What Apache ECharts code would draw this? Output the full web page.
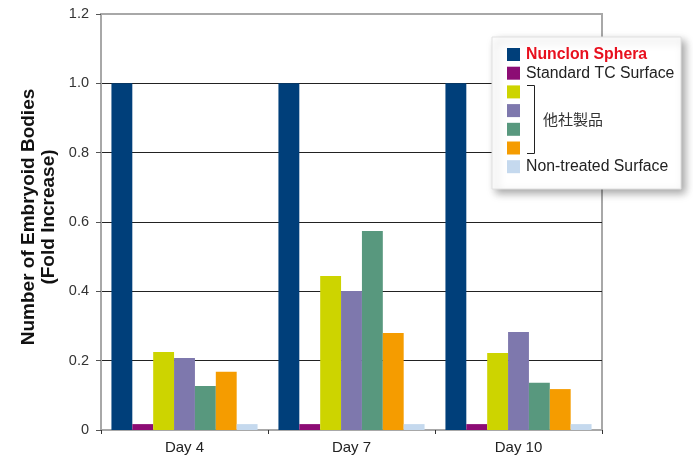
<!DOCTYPE html>
<html>
<head>
<meta charset="utf-8">
<script src="https://cdn.jsdelivr.net/npm/echarts@6/dist/echarts.min.js"></script>
<style>html,body{margin:0;padding:0;background:#fff}#c{width:693px;height:459px}</style>
</head>
<body>
<div id="c"></div>
<script>
const categories = ['Day 4', 'Day 7', 'Day 10'];
const seriesNames = ['Nunclon Sphera', 'Standard TC Surface', '他社製品A', '他社製品B', '他社製品C', '他社製品D', 'Non-treated Surface'];
const nunclon = [1.0, 1.0, 1.0];
const standardTC = [0.017, 0.017, 0.017];
const otherA = [0.225, 0.444, 0.222];
const otherB = [0.208, 0.401, 0.283];
const otherC = [0.127, 0.574, 0.136];
const otherD = [0.168, 0.280, 0.118];
const nonTreated = [0.017, 0.017, 0.017];
const yTicks = [0, 0.2, 0.4, 0.6, 0.8, 1.0, 1.2];
const colors = ['#003f7a', '#8c0c74', '#cdd400', '#7e78ad', '#58987e', '#f59c00', '#c5d9ee'];

const allData = [nunclon, standardTC, otherA, otherB, otherC, otherD, nonTreated];
const font = '"Liberation Sans", Arial, Helvetica, sans-serif';

const chart = echarts.init(document.getElementById('c'));
chart.setOption({
  animation: false,
  textStyle: { fontFamily: font },
  grid: { left: 101, right: 91, top: 14, bottom: 29, show: true, borderColor: '#a8a8a8', borderWidth: 2, backgroundColor: 'transparent' },
  xAxis: {
    type: 'category',
    data: categories,
    axisLine: { lineStyle: { color: '#a8a8a8', width: 2 } },
    axisTick: { show: true, length: 4, lineStyle: { color: '#333' } },
    axisLabel: { color: '#222', fontSize: 15, margin: 10, fontFamily: font },
    splitLine: { show: false }
  },
  yAxis: {
    type: 'value',
    min: yTicks[0],
    max: yTicks[yTicks.length - 1],
    interval: 0.2,
    axisLine: { show: true, lineStyle: { color: '#a8a8a8', width: 2 } },
    axisTick: { show: true, length: 5, lineStyle: { color: '#555' } },
    axisLabel: { color: '#333', fontSize: 14.5, margin: 12, fontFamily: font,
      formatter: v => (v === 0 ? '0' : v.toFixed(1)) },
    splitLine: { show: true, lineStyle: { color: ['#a8a8a8', '#222', '#222', '#222', '#222', '#222', '#a8a8a8'], width: 1 } }
  },
  legend: {
    orient: 'vertical',
    left: 507,
    top: 46.5,
    z: 101,
    itemWidth: 13,
    itemHeight: 13,
    itemGap: 2.7,
    icon: 'rect',
    padding: 0,
    data: seriesNames,
    selectedMode: false,
    formatter: function (name) {
      if (name.indexOf('他社製品') === 0) return ' ';
      if (name === 'Nunclon Sphera') return '{r|Nunclon Sphera}';
      return name;
    },
    textStyle: {
      color: '#222', fontSize: 15.8, fontFamily: font, lineHeight: 15, padding: [0, 0, 0, 1],
      rich: { r: { color: '#e8101e', fontWeight: 'bold', fontSize: 15.8, fontFamily: font, lineHeight: 15 } }
    }
  },
  graphic: [
    { type: 'rect', z: 100, shape: { x: 492, y: 37, width: 189, height: 152 },
      style: { fill: '#fff', stroke: '#e0e0e0', lineWidth: 1, shadowColor: 'rgba(0,0,0,0.35)', shadowBlur: 8, shadowOffsetX: 4, shadowOffsetY: 4 } },
    { type: 'polyline', z: 102, shape: { points: [[527, 85.5], [534.5, 85.5], [534.5, 153.5], [527, 153.5]] },
      style: { stroke: '#222', lineWidth: 1, fill: null } },
    { type: 'text', z: 102, x: 543, y: 119,
      style: { text: '他社製品', fill: '#333', font: '15px "Noto Sans CJK JP", sans-serif', textVerticalAlign: 'middle', textAlign: 'left' } },
    { type: 'text', z: 102, x: 39, y: 217, rotation: Math.PI / 2,
      style: { text: 'Number of Embryoid Bodies\n(Fold Increase)', fill: '#111', font: 'bold 19px ' + font, textAlign: 'center', textVerticalAlign: 'middle', lineHeight: 20 } }
  ],
  series: seriesNames.map((n, i) => ({
    name: n,
    type: 'bar',
    data: allData[i],
    itemStyle: { color: colors[i] },
    barGap: '0%',
    barCategoryGap: '12.5%'
  }))
});
</script>
</body>
</html>
